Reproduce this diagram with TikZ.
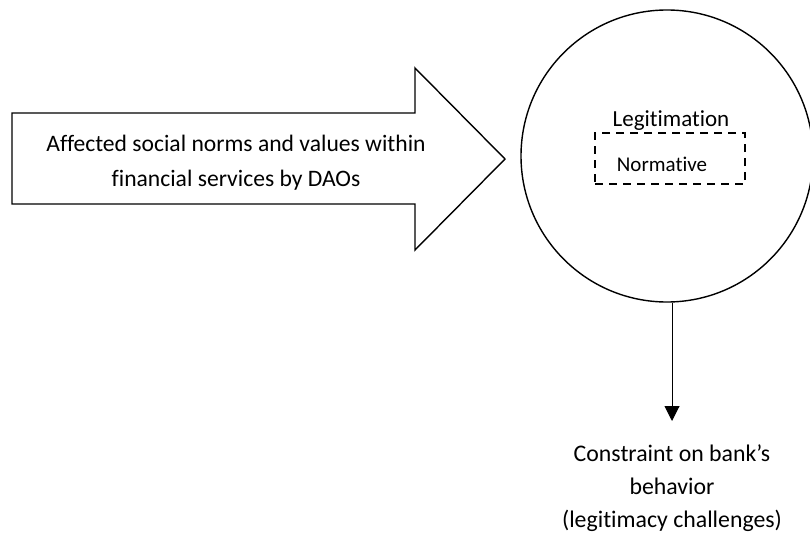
\documentclass[tikz,border=0pt]{standalone}
\usepackage{fontspec}
\setmainfont{Carlito}[RawFeature=-liga]
\usetikzlibrary{arrows.meta}
\begin{document}
\begin{tikzpicture}[x=1pt,y=-1pt,
  outline/.style={draw=black, line width=1.4pt, line join=miter},
  label/.style={align=center, font=\fontsize{23.6}{35}\selectfont, inner sep=0pt},
  flow/.style={draw=black, line width=1pt, -{Triangle[width=15pt,length=15pt]}}]
  \useasboundingbox (0,0) rectangle (810,535);
  \begin{scope}
    \clip (0,0) rectangle (810,535);
    % block arrow
    \draw[outline] (12,113) -- (415,113) -- (415,68) -- (505,159) -- (415,250)
      -- (415,204) -- (12,204) -- cycle;
    % legitimation circle
    \node[outline, circle, minimum size=292pt, inner sep=0pt] (circ) at (667,156) {};
  \end{scope}
  % multi-line nodes: base anchor sits on the last line
  \node[label, anchor=base] (aff) at (236,186.7) {Affected social norms and values within\\financial services by DAOs};
  \node[font=\fontsize{23}{28}\selectfont, inner sep=0pt, anchor=base] (leg) at (671,126.7) {Legitimation};
  \node[draw=black, line width=1.6pt, dash pattern=on 8pt off 6pt,
        minimum width=150pt, minimum height=51pt, inner sep=0pt] (box) at (670,158.5) {};
  \node[font=\fontsize{21}{25}\selectfont, inner sep=0pt, anchor=base] (norm) at (662,171.7) {Normative};
  \coordinate (tip) at (672,421);
  \draw[flow] (circ.south -| tip) -- (tip);
  \node[label, font=\fontsize{23.8}{33}\selectfont, anchor=base] (con) at (672,527.7) {Constraint on bank’s\\behavior\\(legitimacy challenges)};
\end{tikzpicture}
\end{document}
